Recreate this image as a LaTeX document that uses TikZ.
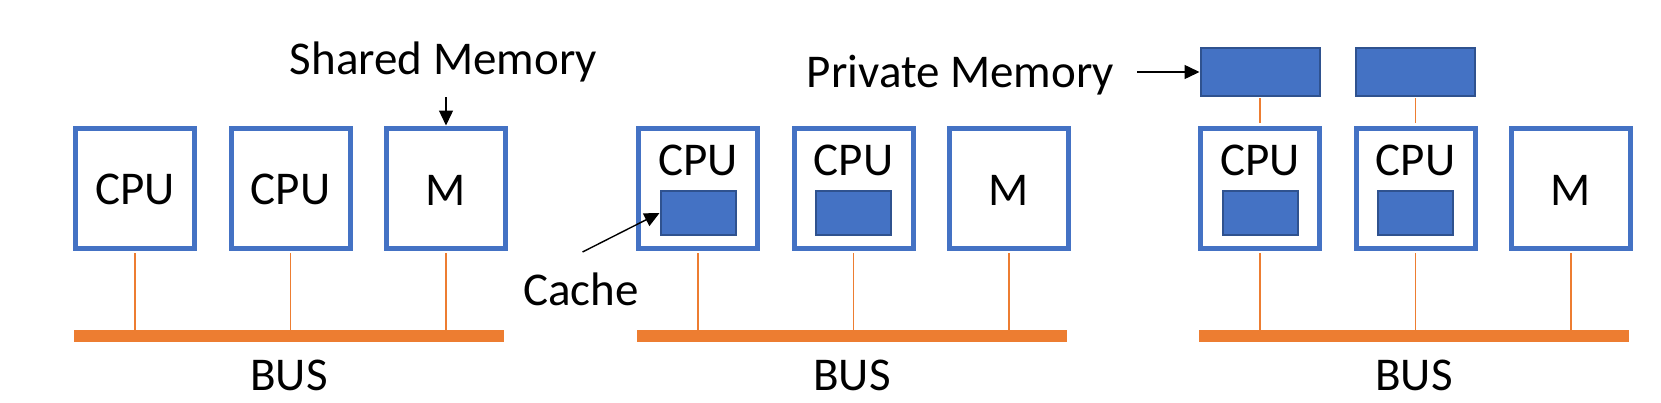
\documentclass[tikz,border=0pt]{standalone}
\usepackage{fontspec}
\setmainfont{Carlito}
\usepackage{xcolor}
\usepackage{tikz}
\usetikzlibrary{arrows.meta,positioning}
\definecolor{unitblue}{HTML}{4472C4}
\definecolor{cacheedge}{HTML}{2F528F}
\definecolor{busorange}{HTML}{ED7D31}

\begin{document}
\begin{tikzpicture}[x=1pt,y=-1pt,font=\fontsize{47}{56}\selectfont,
  unit/.style={draw=unitblue,line width=5pt,fill=white,minimum width=119pt,minimum height=120pt,inner sep=0pt},
  cache/.style={draw=cacheedge,line width=2pt,fill=unitblue,minimum width=75pt,minimum height=44pt,inner sep=0pt},
  privmem/.style={cache,minimum width=119pt,minimum height=48pt},
  bus/.style={fill=busorange,minimum width=430pt,minimum height=12pt,inner sep=0pt},
  wire/.style={draw=busorange,line width=1.2pt},
  lbl/.style={anchor=base,inner sep=0pt},
  pointer/.style={draw=black,line width=1.4pt,-{Triangle[width=14pt,length=15pt]}}]
\useasboundingbox (0,0) rectangle (1661,402);
% three systems: units, bus and taps
\foreach \p/\dx in {a/0,b/563,c/1125}{
  \node[unit] (\p1) at (135+\dx,188) {};
  \node[unit] (\p2) at (290.5+\dx,188) {};
  \node[unit] (\p3) at (446+\dx,188) {};
  \node[bus] (bus\p) at (289+\dx,336) {};
  \node[lbl] at (289+\dx,390) {BUS};
  \node[lbl] at ([yshift=-17pt]\p3.center) {M};
  \foreach \i in {1,2,3}
    \draw[wire,shorten <=2.5pt] (\p\i.south) -- (\p\i.south |- bus\p.north);
}
\foreach \n in {a1,a2}
  \node[lbl] at ([yshift=-16pt]\n.center) {CPU};
% CPUs with cache
\foreach \n in {b1,b2,c1,c2}{
  \node[lbl] at ([yshift=13pt]\n.center) {CPU};
  \node[cache] (cache\n) at ([yshift=-25pt]\n.center) {};
}
% private memories
\foreach \n in {c1,c2}{
  \node[privmem] (pm\n) at ([yshift=116pt]\n.center) {};
  \draw[wire,shorten <=1pt,shorten >=2.5pt] (pm\n) -- (\n);
}
% labels
\node[lbl] (shared) at (443.5,74) {Shared Memory};
\coordinate (sharedtail) at (446,97);
\draw[pointer] (sharedtail) -- (a3.north);
\node[lbl] (cachetxt) at (581,305) {Cache};
\coordinate (cachetail) at (582.5,252);
\draw[pointer] (cachetail) -- (cacheb1.west);
\node[lbl] (private) at (960.5,87) {Private Memory};
\coordinate (privtail) at (1137,72);
\draw[pointer] (privtail) -- (pmc1.west);
\end{tikzpicture}
\end{document}
